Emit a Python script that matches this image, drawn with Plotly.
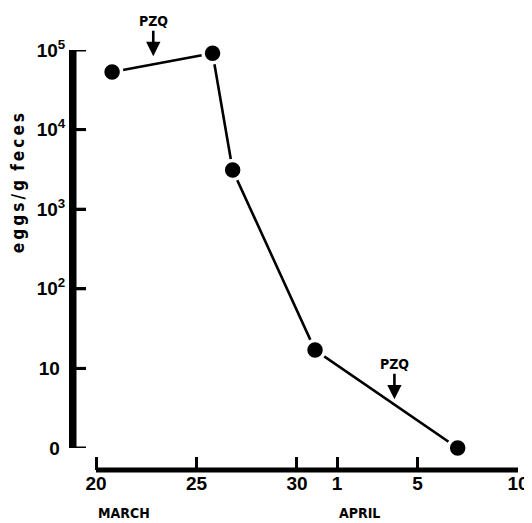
import plotly.graph_objects as go

# Data (days counted from March 20)
days = [0.8, 5.8, 6.8, 10.9, 18.0]
eggs = [5.3e4, 9.1e4, 3.1e3, 17, 1]

x_tickvals = [0, 5, 10, 12, 16, 21]
x_ticktext = ["20", "25", "30", "1", "5", "10"]
y_tickvals = [1, 10, 100, 1000, 10000, 100000]
y_ticktext = ["0\u00a0", "10\u00a0", "10<sup>2</sup>", "10<sup>3</sup>", "10<sup>4</sup>", "10<sup>5</sup>"]

pzq_days = [2.85, 14.85]
pzq_log = [4.91, 0.6]

COND = "Liberation Sans Narrow, DejaVu Sans Condensed, Arial Narrow, sans-serif"
NUM = "Liberation Sans, Arial, Helvetica, sans-serif"

fig = go.Figure()
fig.add_trace(go.Scatter(
    x=days, y=eggs, mode="lines+markers",
    line=dict(color="black", width=2.6),
    marker=dict(color="black", size=19, line=dict(color="white", width=3.5)),
    cliponaxis=False, showlegend=False, hoverinfo="skip",
))

annotations = []
for d, lg in zip(pzq_days, pzq_log):
    annotations.append(dict(
        x=d, y=lg, xref="x", yref="y", text="<b>PZQ</b>",
        showarrow=True, arrowhead=2, arrowsize=1.1, arrowwidth=2.6, arrowcolor="black",
        ax=0, ay=-36, standoff=1,
        font=dict(family=COND, size=14, color="black"),
    ))
annotations.append(dict(
    x=-0.126, y=0.683, xref="paper", yref="paper",
    text="<b>" + "\u2009".join("eggs/g") + "\u2009\u2009\u2009" + "\u2009".join("feces") + "</b>",
    textangle=-90, showarrow=False, xanchor="center", yanchor="middle",
    font=dict(family=COND, size=17, color="black"),
))
annotations.append(dict(
    x=0, y=-0.102, xref="x", yref="paper", text="<b>MARCH</b>", showarrow=False,
    xanchor="left", yanchor="middle", font=dict(family=COND, size=14, color="black"),
))
annotations.append(dict(
    x=12, y=-0.102, xref="x", yref="paper", text="<b>APRIL</b>", showarrow=False,
    xanchor="left", yanchor="middle", font=dict(family=COND, size=14, color="black"),
))

# x-axis baseline spanning the first to the last tick (detached from the y axis)
fig.add_shape(type="line", xref="x", yref="paper",
              x0=x_tickvals[0], x1=x_tickvals[-1], y0=0, y1=0,
              line=dict(color="black", width=5))
# y-axis line spanning the lowest to the highest tick
fig.add_shape(type="line", xref="paper", yref="paper",
              x0=0, x1=0, y0=0.0524, y1=1,
              line=dict(color="black", width=5))
# y-axis tick marks pointing into the plot (shape coords on this log axis are data values)
for v in y_tickvals:
    fig.add_shape(type="line", xref="paper", xsizemode="pixel", xanchor=0,
                  x0=0, x1=12, yref="y", y0=v, y1=v,
                  line=dict(color="black", width=3))

fig.update_layout(
    width=532, height=523,
    margin=dict(l=66, r=22, t=42, b=61),
    paper_bgcolor="white", plot_bgcolor="white",
    annotations=annotations,
    xaxis=dict(
        domain=[0, 1], range=[-1.095, 21], anchor="free", position=0, automargin=False,
        showline=False,
        ticks="inside", ticklen=13, tickwidth=3, tickcolor="black",
        tickvals=x_tickvals, ticktext=x_ticktext,
        tickfont=dict(family=NUM, size=19, color="black", weight="bold"),
        showgrid=False, zeroline=False,
    ),
    yaxis=dict(
        type="log", domain=[0.0524, 1], range=[0, 5], anchor="x", automargin=False,
        showline=True, linecolor="black", linewidth=5,
        ticks="inside", ticklen=12, tickwidth=3, tickcolor="black",
        tickvals=y_tickvals, ticktext=y_ticktext,
        tickfont=dict(family=NUM, size=19, color="black", weight="bold"),
        showgrid=False, zeroline=False,
    ),
)

fig.write_html("out.html")
